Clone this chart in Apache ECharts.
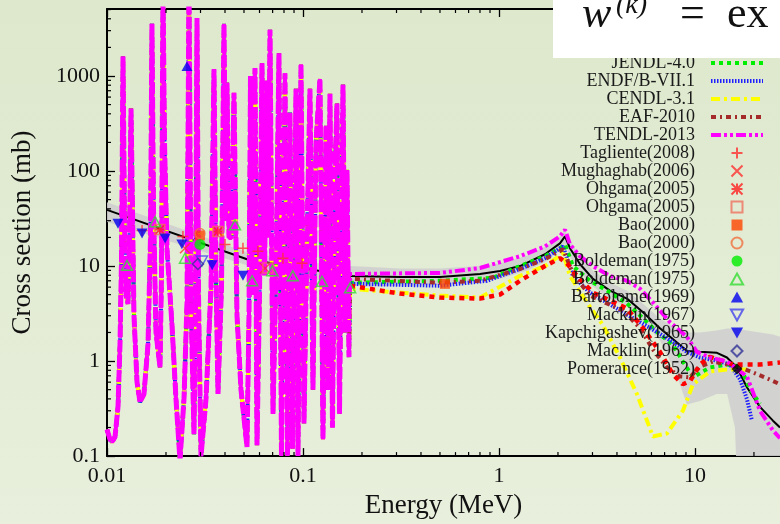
<!DOCTYPE html>
<html>
<head>
<meta charset="utf-8">
<script src="https://cdn.jsdelivr.net/npm/echarts@6.0.0/dist/echarts.min.js"></script>
<style>
html,body{margin:0;padding:0;background:#e3ecd6;}
#chart{width:780px;height:524px;}
</style>
</head>
<body>
<div id="chart"></div>
<script>
// ---------- Resonance region shared by the evaluated libraries (E in MeV, sigma in mb)
const resE = [0.01000,0.01036,0.01061,0.01099,0.01138,0.01165,0.01186,0.01207,0.01228,0.01250,0.01280,0.01303,0.01326,0.01349,0.01373,0.01423,0.01474,0.01544,0.01619,0.01667,0.01696,0.01727,0.01778,0.01864,0.01897,0.01931,0.01965,0.02024,0.02146,0.02249,0.02357,0.02471,0.02559,0.02620,0.02683,0.02779,0.02828,0.02879,0.02930,0.03017,0.03200,0.03394,0.03515,0.03599,0.03684,0.03839,0.03953,0.04024,0.04095,0.04193,0.04318,0.04446,0.04606,0.04827,0.05179,0.05303,0.05397,0.05493,0.05690,0.05825,0.05999,0.06178,0.06362,0.06551,0.06668,0.06787,0.07030,0.07282,0.07543,0.07768,0.08094,0.08336,0.08584,0.08840,0.09212,0.09431,0.09768,0.10118,0.10481,0.10857,0.11246,0.11650,0.12210,0.12648,0.13101,0.13413,0.13731,0.14140,0.14561,0.14909,0.15356,0.16001,0.16381,0.16771,0.17170];
const resXS = [0.19,0.15,0.14,0.16,0.33,1.5,12,1600,30,5,4,20,455,40,3,0.6,0.37,0.45,1.5,20,3540,40,2,0.86,8,9000,200,15,2.4,0.4,0.09,0.4,4,9000,4,0.17,4,4080,5,0.1,0.4,6,1180,8,0.45,6,3540,30,846,20,20,667,3,0.5,0.125,3,1000,5,1210,0.13,5,1360,8,890,20,3070,0.28,8,1730,0.1,1070,0.1,414,0.12,733,0.1,1330,0.22,20,733,0.5,200,930,0.15,300,0.5,650,0.2,100,513,0.28,807,2,103,1.1];

// ---------- Smooth region of each evaluation
const jendlE  = [0.174,0.500,0.931,1.280,1.717,2.047,2.172,2.386,2.911,3.556,4.498,5.240,6.397,7.722,8.681,9.765,11.93,14.56,16.98,19.08,21.46];
const jendlXS = [6.67,7.00,7.51,10.0,12.7,15.4,16.9,10.0,7.00,5.51,4.04,3.03,2.02,1.48,0.99,0.675,0.857,0.92,0.877,0.507,0.354];

const endfE  = [0.174,0.500,0.869,1.280,1.717,2.122,2.386,2.911,3.556,4.293,5.240,6.397,7.722,9.100,10.61,12.95,15.10,16.98,18.41,19.53];
const endfXS = [6.51,6.21,7.00,9.31,12.1,16.1,7.88,5.25,4.14,3.26,2.57,2.02,1.59,1.25,1.09,1.01,0.92,0.643,0.399,0.236];

const cendlE  = [0.174,0.2275,0.500,0.800,1.280,1.717,2.122,2.303,2.812,3.393,4.142,5.058,6.105,7.194,8.681,9.765,11.93,14.56,19.08];
const cendlXS = [5.78,5.51,4.89,4.66,7.88,10.0,13.6,7.88,4.14,2.39,1.09,0.45,0.161,0.173,0.30,0.57,0.778,0.817,0.817];

const eafE  = [0.174,0.500,0.800,1.280,1.717,2.122,2.386,2.911,3.556,4.293,5.240,6.105,7.194,8.375,9.420,10.61,12.36,14.56,16.98,19.77,23.29,27.16];
const eafXS = [7.33,6.67,7.00,9.31,11.8,15.0,8.26,4.89,4.04,3.42,2.22,1.32,0.857,0.69,0.675,0.877,0.99,0.92,0.857,0.76,0.659,0.57];

const tendlE  = [0.174,0.500,0.800,1.280,1.717,2.047,2.172,2.303,2.588,3.017,3.684,4.498,5.240,6.105,7.450,9.100,10.23,11.93,14.56,18.41,21.46,25.0,27.16];
const tendlXS = [8.26,8.46,9.53,12.7,16.1,20.5,24.2,16.9,12.7,10.0,7.88,7.00,5.78,4.14,2.57,1.80,1.25,1.09,0.99,0.69,0.30,0.186,0.154];

const redE  = [0.174,0.3126,0.500,0.800,1.012,1.280,1.717,2.047,2.223,2.500,3.017,3.684,4.498,5.430,6.627,7.722,8.681,9.420,10.61,11.93,15.63,21.46,27.16];
const redXS = [6.21,5.13,4.66,4.55,5.00,7.00,10.0,12.1,10.7,7.88,5.25,4.34,3.58,2.22,1.25,0.724,0.57,0.614,0.92,1.11,0.92,0.92,0.965];

const fitE  = [0.01,0.0518,0.1,0.174,0.3126,0.5,0.8,1.012,1.28,1.717,2.047,2.172,2.303,2.588,3.017,3.684,4.498,5.43,6.627,9.1,10.61,12.95,14.56,16.38,18.41,21.46,25.0,27.16];
const fitXS = [39,11.8,9.5,7.88,7.69,7.69,8.26,8.87,10.0,13.3,17.3,20.5,15.4,10.5,7.33,5.51,4.55,3.26,2.22,1.28,1.25,1.22,1.09,0.857,0.531,0.33,0.236,0.2];

// uncertainty band of the fit
const bandE  = [0.01,0.0518,0.1,0.174,0.3126,0.5,0.8,1.012,1.39,1.72,2.05,2.17,2.30,2.59,3.02,3.68,4.50,5.43,6.63,8.0,9.1,10.6,12.9,14.6,16.0,16.4,18.4,21.5,25.0,27.2];
const bandHi = [47,14,11,10,9.4,9.4,10,10.7,12.8,16,20.5,24,18.5,12.8,8.9,6.7,5.5,4.0,2.8,2.2,2.0,2.0,2.1,2.2,2.2,2.2,2.1,2.0,1.9,1.8];
const bandLo = [29,10.2,7.6,6.2,6.2,6.3,6.9,7.3,9.0,11,14.5,17.5,12.5,8.7,6.1,4.5,3.7,2.6,1.65,0.75,0.35,0.38,0.45,0.45,0.2,0.05,0.05,0.05,0.05,0.05];

// ---------- Measurements [E, sigma]
const tagliente  = [[0.0099,30.7],[0.0151,23.6],[0.0244,20.5],[0.040,16.9],[0.0494,15.4],[0.0589,14.3],[0.079,12.1],[0.0989,10.7]];
const mughabghab = [[0.025,15.4],[0.064,9.5]];
const ohgamaA    = [[0.0186,24.2],[0.0368,23.1]];
const ohgamaB    = [[0.0186,24.2],[0.0368,23.1],[0.0662,9.53]];
const baoA       = [[0.0298,21.0],[0.53,6.5]];
const baoB       = [[0.0298,22.0]];
const boldemanA  = [[0.0298,16.9]];
const boldemanB  = [[0.01265,10.2],[0.0176,29.3],[0.025,12.1],[0.045,27.2],[0.055,7.0],[0.0697,8.9],[0.0887,7.9],[0.125,6.9],[0.174,5.9]];
const bartolome  = [[0.0256,1270]];
const macklin67  = [[0.0305,11.3]];
const kapchi     = [[0.01138,27.9],[0.0151,22.0],[0.0198,19.5],[0.0241,16.9],[0.0344,10.2],[0.0494,7.9]];
const macklin63  = [[0.0291,10.5]];
const pomerance  = [];

// ---------- Axes
const xRange = [0.01, 27.16];
const yRange = [0.1, 5070];
const xTickLabels = {0.01:'0.01', 0.1:'0.1', 1:'1', 10:'10'};
const yTickLabels = {0.1:'0.1', 1:'1', 10:'10', 100:'100', 1000:'1000'};
const xMinor = [], yMinor = [];
[0.01,0.1,1,10].forEach(d => { for (let m = 2; m <= 9; m++) { const v = +(m*d).toPrecision(3); if (v < xRange[1]) xMinor.push(v); } });
[0.1,1,10,100,1000].forEach(d => { for (let m = 2; m <= 9; m++) { const v = +(m*d).toPrecision(3); if (v < yRange[1]) yMinor.push(v); } });

const FONT = '"Liberation Serif", "DejaVu Serif", serif';
const zip = (a, b) => a.map((v, i) => [v, b[i]]);
const res = zip(resE, resXS);

function lib(name, data, color, dash, width) {
  return { type:'line', name, data, symbol:'none', showSymbol:false,
    lineStyle:{ color, type:dash, width, cap:'butt' }, itemStyle:{ color, opacity:0 }, z:2, clip:true };
}
function pts(name, data, symbol, size, fill, stroke, bw) {
  return { type:'scatter', name, data, symbol, symbolSize:size, symbolKeepAspect:true, z:3,
    itemStyle:{ color: fill, borderColor: stroke, borderWidth: bw } };
}
const PLUS = 'path://M5,0L5,10M0,5L10,5';
const CROSS = 'path://M0,0L10,10M10,0L0,10';
const STAR = 'path://M0,0L10,10M10,0L0,10M5,0L5,10M0,5L10,5';
const SQUARE = 'path://M0,0L10,0L10,10L0,10Z';
const TRI_UP = 'path://M5,0L10,9L0,9Z';
const TRI_DN = 'path://M0,0L10,0L5,9Z';
const DIAMOND = 'path://M5,0L10,5L5,10L0,5Z';
const NONE = 'rgba(0,0,0,0)';

const series = [
  { type:'custom', name:'band', silent:true, z:1, clip:true, data:[[1,1]],
    renderItem(params, api) {
      const p = [];
      for (let i = 0; i < bandE.length; i++) p.push(api.coord([bandE[i], bandHi[i]]));
      for (let i = bandE.length - 1; i >= 0; i--) p.push(api.coord([bandE[i], bandLo[i]]));
      return { type:'polygon', shape:{ points:p }, style:{ fill:'#cfcfcf', opacity:0.9 } };
    } },
  { type:'line', name:'Fit', data: zip(fitE, fitXS), symbol:'none', lineStyle:{ color:'#000', width:2 }, z:2, clip:true },
  lib('JENDL-4.0', res.concat(zip(jendlE, jendlXS)), '#00ee00', [4,4], 4),
  lib('ENDF/B-VII.1', res.concat(zip(endfE, endfXS)), '#2020ff', [1.5,1.5], 4),
  lib('CENDL-3.1', res.concat(zip(cendlE, cendlXS)), '#ffff00', [9,4,3,4], 4),
  lib('EAF-2010', res.concat(zip(eafE, eafXS)), '#a52a2a', [5,4,2,4], 4),
  lib('Other', zip(redE, redXS), '#ff0000', [5,5], 4.5),
  lib('TENDL-2013', res.concat(zip(tendlE, tendlXS)), '#ff00ff', [10,3,3,3,3,3], 4),
  { type:'line', name:'TENDL-2013 resonances', data: res, symbol:'none', z:2, clip:true,
    lineStyle:{ color:'#ff00ff', width:5, type:[12,3] } },
  pts('Tagliente(2008)', tagliente, PLUS, 11, NONE, '#ff3030', 1.5),
  pts('Mughaghab(2006)', mughabghab, CROSS, 10, NONE, '#ff3030', 1.5),
  pts('Ohgama(2005)', ohgamaA, STAR, 10, NONE, '#ff2020', 1.8),
  pts('Ohgama(2005)#2', ohgamaB, SQUARE, 10, NONE, '#f07060', 1.5),
  pts('Bao(2000)', baoA, SQUARE, 10, '#ff4500', '#ff4500', 0),
  pts('Bao(2000)#2', baoB, 'circle', 10, NONE, '#f07040', 1.5),
  pts('Boldeman(1975)', boldemanA, 'circle', 11, '#00ee00', '#00ee00', 0),
  pts('Boldeman(1975)#2', boldemanB, TRI_UP, 11, NONE, '#33dd33', 1.5),
  pts('Bartolome(1969)', bartolome, TRI_UP, 11, '#0000ee', '#0000ee', 0),
  pts('Macklin(1967)', macklin67, TRI_DN, 11, NONE, '#4444ee', 1.5),
  pts('Kapchigashev(1965)', kapchi, TRI_DN, 11, '#0000ee', '#0000ee', 0),
  pts('Macklin(1963)', macklin63, DIAMOND, 11, NONE, '#333399', 1.5),
  pts('Pomerance(1952)', pomerance, DIAMOND, 11, '#000', '#000', 0),
  { type:'custom', name:'minorTicks', silent:true, z:3, clip:false, data:[[1,1]],
    renderItem(params, api) {
      const cs = params.coordSys, ch = [];
      const top = cs.y, bottom = cs.y + cs.height, left = cs.x;
      const st = { stroke:'#000', lineWidth:1.2 };
      xMinor.forEach(v => {
        const x = api.coord([v, 1])[0];
        ch.push({ type:'line', shape:{ x1:x, y1:bottom, x2:x, y2:bottom-4 }, style:st });
        ch.push({ type:'line', shape:{ x1:x, y1:top, x2:x, y2:top+4 }, style:st });
      });
      yMinor.forEach(v => {
        const y = api.coord([1, v])[1];
        ch.push({ type:'line', shape:{ x1:left, y1:y, x2:left+4, y2:y }, style:st });
      });
      return { type:'group', children:ch };
    } }
];

const legendNames = ['JENDL-4.0','ENDF/B-VII.1','CENDL-3.1','EAF-2010','TENDL-2013','Tagliente(2008)','Mughaghab(2006)','Ohgama(2005)','Ohgama(2005)#2','Bao(2000)','Bao(2000)#2','Boldeman(1975)','Boldeman(1975)#2','Bartolome(1969)','Macklin(1967)','Kapchigashev(1965)','Macklin(1963)','Pomerance(1952)'];

const axisCommon = {
  type:'log', logBase:10, splitLine:{ show:false },
  axisLine:{ show:true, lineStyle:{ color:'#000', width:2 } },
  axisTick:{ show:true, inside:true, length:8, lineStyle:{ color:'#000', width:1.3 } },
  minorTick:{ show:false }
};

const option = {
  animation:false,
  backgroundColor: new echarts.graphic.LinearGradient(0,0,0,1,[{offset:0,color:'#dde8cc'},{offset:1,color:'#e8efdc'}]),
  grid:{ left:107, right:0, top:9, bottom:61, containLabel:false },
  xAxis:[
    Object.assign({}, axisCommon, { position:'bottom', min:xRange[0], max:xRange[1],
      axisLabel:{ fontFamily:FONT, fontSize:22, color:'#111', margin:9, showMaxLabel:false,
        formatter: v => xTickLabels[+(+v).toPrecision(3)] || '' },
      name:'Energy (MeV)', nameLocation:'middle', nameGap:33,
      nameTextStyle:{ fontFamily:FONT, fontSize:27, color:'#111' } }),
    Object.assign({}, axisCommon, { position:'top', min:xRange[0], max:xRange[1], axisLabel:{ show:false } })
  ],
  yAxis:[
    Object.assign({}, axisCommon, { min:yRange[0], max:yRange[1],
      axisLabel:{ fontFamily:FONT, fontSize:22, color:'#111', margin:7, showMaxLabel:false,
        formatter: v => yTickLabels[+(+v).toPrecision(3)] || '' },
      name:'Cross section (mb)', nameLocation:'middle', nameGap:71, nameRotate:90,
      nameTextStyle:{ fontFamily:FONT, fontSize:27, color:'#111' } })
  ],
  legend:{
    data: legendNames, orient:'vertical', right:15, top:54, align:'right',
    itemWidth:52, itemHeight:11, itemGap:0, padding:0, selectedMode:false, z:4,
    symbolKeepAspect:true,
    lineStyle:{ width:4 },
    formatter: n => n.replace(/#\d$/, ''),
    textStyle:{ fontFamily:FONT, fontSize:18, color:'#1a1a1a', lineHeight:18, width:160, align:'right', padding:[0,11,0,0] }
  },
  graphic:[
    { type:'rect', z:100, shape:{ x:553, y:0, width:227, height:58 }, style:{ fill:'#ffffff' } },
    { type:'text', z:101, x:582, y:37, style:{ text:'w', font:'italic 44px "Liberation Serif"', fill:'#111', verticalAlign:'bottom' } },
    { type:'text', z:101, x:616, y:20, style:{ text:'(k)', font:'italic 28px "Liberation Serif"', fill:'#111', verticalAlign:'bottom' } },
    { type:'text', z:101, x:680, y:37, style:{ text:'=', font:'44px "Liberation Serif"', fill:'#111', verticalAlign:'bottom' } },
    { type:'text', z:101, x:727, y:37, style:{ text:'ex', font:'44px "Liberation Serif"', fill:'#111', verticalAlign:'bottom' } }
  ],
  series
};

const chart = echarts.init(document.getElementById('chart'), null, { renderer:'canvas' });
chart.setOption(option);
</script>
</body>
</html>
